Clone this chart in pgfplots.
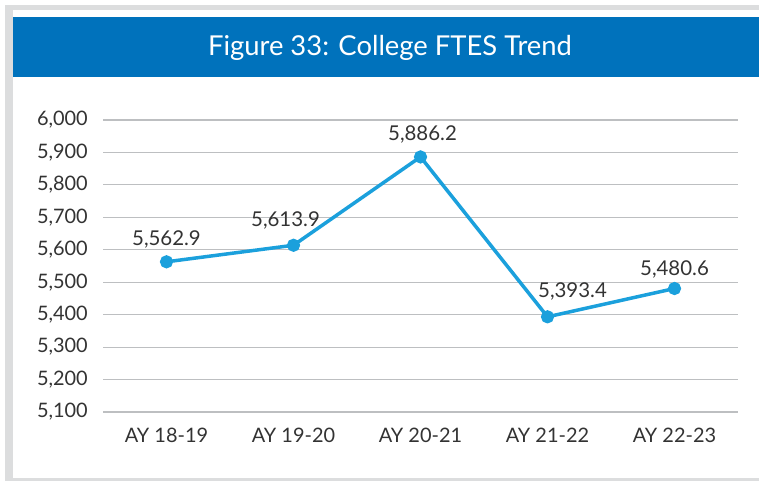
\documentclass[border=0pt]{standalone}
\usepackage{pgfplots}
\pgfplotsset{compat=1.18}
\usepackage{fontspec}
\setmainfont{Lato}
\definecolor{hdr}{HTML}{0072BC}
\definecolor{ln}{HTML}{1BA0DC}
\definecolor{txt}{HTML}{333333}
\definecolor{grd}{HTML}{BDBFC1}
\definecolor{frm}{HTML}{DCDDDE}

\pgfplotstableread{
x y lab dx dy
0 5562.9 5,562.9 0 16
1 5613.9 5,613.9 -8 19
2 5886.2 5,886.2 2 16
3 5393.4 5,393.4 25 19
4 5480.6 5,480.6 0 13
}\ftes

\begin{document}
\begin{tikzpicture}
\begin{scope}[x=1bp,y=1bp]
  \path[use as bounding box] (0,0) rectangle (759,481);
  \fill[frm] (5,0) rectangle (759,476);
  \fill[white] (13,3) rectangle (759,471);
  \fill[hdr] (13,404) rectangle (759,464);
  \node[white, font=\fontsize{27.5}{32}\selectfont] at (390,433) {Figure 33: College FTES Trend};
\end{scope}
\begin{axis}[
    at={(103bp,69bp)}, anchor=south west,
    width=635bp, height=292bp, scale only axis,
    xmin=-0.5, xmax=4.5,
    ymin=5100, ymax=6000,
    xtick={0,1,2,3,4},
    xticklabels={AY 18-19, AY 19-20, AY 20-21, AY 21-22, AY 22-23},
    ytick={5100,5200,...,6000},
    axis line style={draw=none},
    major tick length=0pt,
    ymajorgrids=true,
    grid style={grd, line width=1.2bp},
    /pgf/number format/assume math mode=true,
    /pgf/number format/1000 sep={,},
    tick label style={font=\fontsize{20}{24}\selectfont, text=txt, inner sep=0pt},
    yticklabel style={anchor=east, xshift=-15bp},
    xticklabel style={anchor=north, yshift=-16bp},
    clip=false,
  ]
  \addplot[color=ln, line width=3.5bp, mark=*, mark size=4.8bp,
    point meta=explicit symbolic,
    visualization depends on={\thisrow{dx} \as \dx},
    visualization depends on={\thisrow{dy} \as \dy},
    nodes near coords,
    every node near coord/.style={font=\fontsize{20.5}{24}\selectfont, text=txt, anchor=base, xshift=\dx bp, yshift=\dy bp, inner sep=0pt}]
  table[x=x, y=y, meta=lab] {\ftes};
\end{axis}
\end{tikzpicture}
\end{document}
